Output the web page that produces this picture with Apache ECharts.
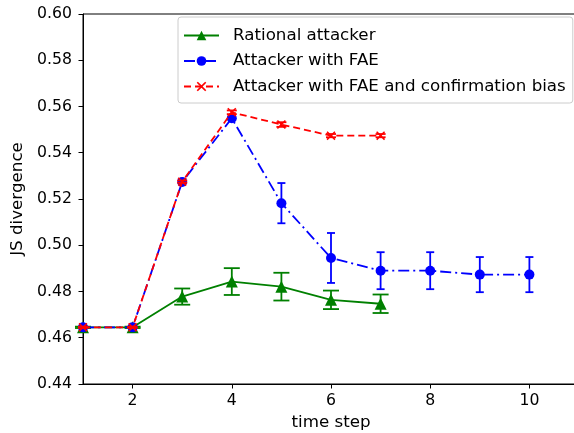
<!DOCTYPE html>
<html><head><meta charset="utf-8">
<script src="https://cdn.jsdelivr.net/npm/echarts@6/dist/echarts.min.js"></script>
<style>html,body{margin:0;padding:0;background:#fff}#c{width:574px;height:433px}</style>
</head><body><div id="c"></div>
<script>
const steps = [1,2,3,4,5,6,7,8,9,10];
const xTicks = [2,4,6,8,10];
const yTicks = [0.44,0.46,0.48,0.50,0.52,0.54,0.56,0.58,0.60];
const names = ['Rational attacker','Attacker with FAE','Attacker with FAE and confirmation bias'];
const rationalSteps = [1,2,3,4,5,6,7];
const rationalMean = [0.4645,0.4645,0.4778,0.4843,0.4821,0.4764,0.4747];
const rationalErr  = [0.0003,0.0003,0.0035,0.0058,0.0060,0.0040,0.0040];
const faeSteps = [1,2,3,4,5,6,7,8,9,10];
const faeMean = [0.4645,0.4645,0.5274,0.5549,0.5182,0.4945,0.4890,0.4890,0.4873,0.4873];
const faeErr  = [0.0003,0.0003,0.0005,0.0005,0.0087,0.0108,0.0080,0.0080,0.0076,0.0076];
const cbSteps = [1,2,3,4,5,6,7];
const cbMean = [0.4645,0.4645,0.5275,0.5575,0.5522,0.5474,0.5474];
const cbErr  = [0.0003,0.0003,0.0005,0.0008,0.0010,0.0007,0.0007];

const FONT = 'DejaVu Sans';
const green = '#008000', blue = '#0000ff', red = '#ff0000';
const xPath = 'path://M0,1.2L1.2,0L5,3.8L8.8,0L10,1.2L6.2,5L10,8.8L8.8,10L5,6.2L1.2,10L0,8.8L3.8,5Z';

function pairs(xs, ys){ return xs.map((x,i)=>[x, ys[i]]); }
function errData(xs, m, e){ return xs.map((x,i)=>[x, m[i]-e[i], m[i]+e[i]]); }
function errSeries(xs, m, e, color, cap, z){
  return {
    type:'custom', z:z, silent:true,
    data: errData(xs,m,e),
    encode:{x:0, y:[1,2]},
    renderItem:function(params, api){
      const x = api.value(0);
      const p1 = api.coord([x, api.value(1)]);
      const p2 = api.coord([x, api.value(2)]);
      const st = {stroke:color, lineWidth:1.8, fill:null};
      return {type:'group', children:[
        {type:'line', shape:{x1:p1[0],y1:p1[1],x2:p2[0],y2:p2[1]}, style:st},
        {type:'line', shape:{x1:p1[0]-cap,y1:p1[1],x2:p1[0]+cap,y2:p1[1]}, style:st},
        {type:'line', shape:{x1:p2[0]-cap,y1:p2[1],x2:p2[0]+cap,y2:p2[1]}, style:st}
      ]};
    }
  };
}

const chart = echarts.init(document.getElementById('c'), null, {renderer:'canvas'});
chart.setOption({
  animation:false,
  backgroundColor:'#fff',
  grid:{left:83, top:14, width:496, bottom:49, outerBoundsMode:'none', containLabel:false,
        show:true, borderColor:'#000', borderWidth:1, backgroundColor:'transparent'},
  xAxis:{
    type:'value', min:1, max:11,
    name:'time step', nameLocation:'middle', nameGap:30,
    nameTextStyle:{fontFamily:FONT, fontSize:16.7, color:'#000'},
    axisLine:{show:true, onZero:false, lineStyle:{color:'#000', width:1}},
    axisTick:{show:true, inside:false, length:4.5, customValues:xTicks, lineStyle:{color:'#000'}},
    axisLabel:{customValues:xTicks, margin:9, fontFamily:FONT, fontSize:15.7, color:'#000'},
    splitLine:{show:false}
  },
  yAxis:{
    type:'value', min:0.44, max:0.60, interval:0.02,
    name:'JS divergence', nameLocation:'middle', nameGap:46,
    nameTextStyle:{fontFamily:FONT, fontSize:16.7, color:'#000'},
    axisLine:{show:true, onZero:false, lineStyle:{color:'#000', width:1}},
    axisTick:{show:true, inside:false, length:4.5, customValues:yTicks, lineStyle:{color:'#000'}},
    axisLabel:{customValues:yTicks, margin:11, fontFamily:FONT, fontSize:15.7, color:'#000', formatter:v=>v.toFixed(2)},
    splitLine:{show:false}
  },
  legend:{
    data:names, orient:'vertical', left:178, top:17,
    padding:[10,7,8,5], itemGap:8.5, itemWidth:35, itemHeight:12,
    backgroundColor:'rgba(255,255,255,0.85)', borderColor:'#cccccc', borderWidth:1, borderRadius:3,
    textStyle:{fontFamily:FONT, fontSize:16.7, color:'#000', padding:[0,0,0,9]}
  },
  series:[
    errSeries(rationalSteps, rationalMean, rationalErr, green, 8, 2),
    {name:names[0], type:'line', z:3, data:pairs(rationalSteps, rationalMean),
     symbol:'triangle', symbolSize:12, showSymbol:true,
     lineStyle:{color:green, width:1.8, type:'solid'}, itemStyle:{color:green}},
    errSeries(faeSteps, faeMean, faeErr, blue, 4, 4),
    {name:names[1], type:'line', z:5, data:pairs(faeSteps, faeMean),
     symbol:'circle', symbolSize:10,
     lineStyle:{color:blue, width:1.8, type:[11,4,2,4]}, itemStyle:{color:blue}},
    errSeries(cbSteps, cbMean, cbErr, red, 5, 6),
    {name:names[2], type:'line', z:7, data:pairs(cbSteps, cbMean),
     symbol:xPath, symbolSize:9,
     lineStyle:{color:red, width:1.8, type:[7,4]}, itemStyle:{color:red}}
  ]
});
</script></body></html>
